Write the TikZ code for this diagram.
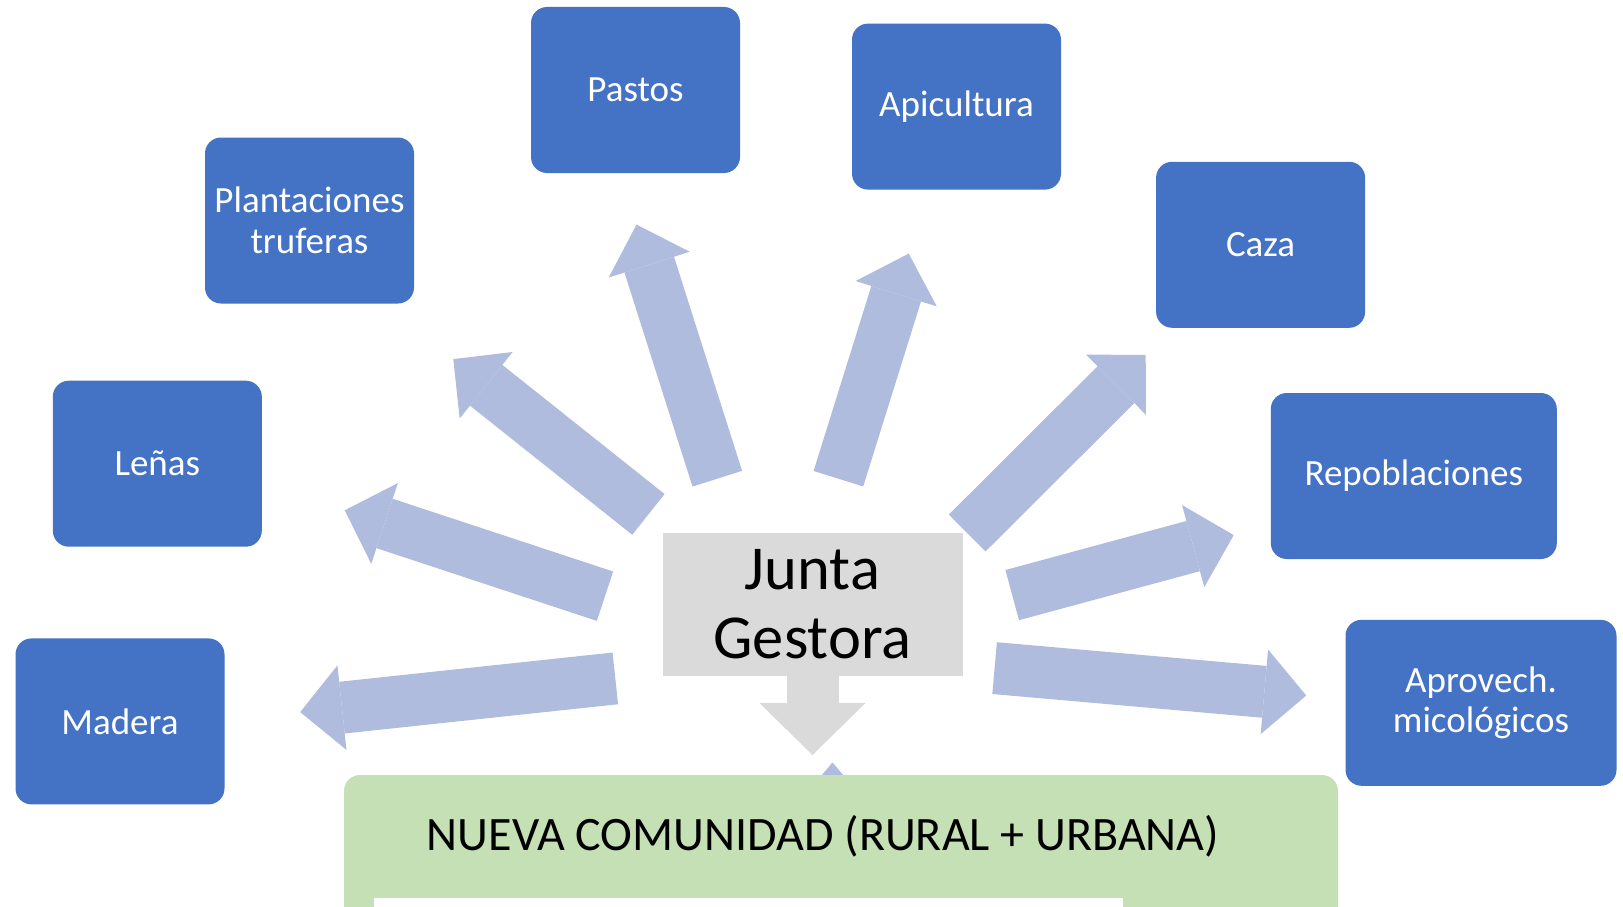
\documentclass[tikz,border=0pt]{standalone}
\usepackage{fontspec}
\setmainfont{Carlito}
\usetikzlibrary{arrows.meta}
\definecolor{boxblue}{RGB}{68,114,196}
\definecolor{arrowblue}{RGB}{175,188,222}
\definecolor{juntagray}{RGB}{218,218,218}
\definecolor{comgreen}{RGB}{197,224,180}
\tikzset{
  usobox/.style={fill=boxblue, rounded corners=16pt, minimum width=209pt, minimum height=166pt,
    text=white, align=center, inner sep=0pt, font=\fontsize{37}{40.5}\selectfont},
  bluearrow/.style={arrowblue, line width=52pt, -{Triangle[length=42pt, width=85pt, line width=0pt]}},
  grayarrow/.style={juntagray, line width=52pt, -{Triangle[length=52pt, width=106pt, line width=0pt]}}
}
\begin{document}
\begin{tikzpicture}[x=1pt,y=1pt,yscale=-1,xscale=1]
\clip (0,0) rectangle (1623,907);

%Shape: Rounded Rect (usos)
\node[usobox] (pastos) at (635.5,90) {Pastos};
\node[usobox] (apicultura) at (956.5,106.6) {Apicultura};
\node[usobox] (truferas) at (309.5,220.5) {Plantaciones\\truferas};
\node[usobox] (caza) at (1260.6,244.8) {Caza};
\node[usobox] (lenas) at (157.3,463.7) {Leñas};
\node[usobox, minimum width=286pt] (repoblaciones) at (1413.8,476) {Repoblaciones};
\node[usobox] (madera) at (120,721.4) {Madera};
\node[usobox, minimum width=271pt] (micologicos) at (1481,702.8) {Aprovech.\\micológicos};

%Shape: Rectangle (junta)
\node[fill=juntagray, minimum width=300pt, minimum height=143pt, align=center, inner sep=0pt,
  font=\fontsize{62.5}{69}\selectfont] (junta) at (812.5,604.5) {Junta\\Gestora};

%Shape: Right Arrow (ends)
\coordinate (madera-a) at (615.3,678.4);   \coordinate (madera-b) at (300.2,712.1);
\coordinate (lenas-a) at (605,596.2);      \coordinate (lenas-b) at (344.7,510.3);
\coordinate (truferas-a) at (648.4,514.4); \coordinate (truferas-b) at (453.3,359.1);
\coordinate (pastos-a) at (717.3,478.7);   \coordinate (pastos-b) at (636.5,224.6);
\coordinate (apicultura-a) at (838.4,478.7); \coordinate (apicultura-b) at (908.7,253.6);
\coordinate (caza-a) at (967.2,533);       \coordinate (caza-b) at (1145.7,355);
\coordinate (repoblaciones-a) at (1012.2,595.1); \coordinate (repoblaciones-b) at (1233.7,535.1);
\coordinate (micologicos-a) at (994.6,668.1); \coordinate (micologicos-b) at (1306.2,695.5);

%Shape: Right Arrow
\foreach \u in {madera,lenas,truferas,pastos,apicultura,caza,repoblaciones,micologicos}
  \draw[bluearrow] (\u-a) -- (\u-b);

%Shape: Down Arrow
\coordinate (down) at (812.5,755);
\draw[grayarrow] (junta.south) -- (down);

%Shape: Triangle
\fill[arrowblue] (821,776) -- (832.5,762.5) -- (844,776) -- cycle;

%Shape: Rounded Rect (comunidad)
\fill[comgreen, rounded corners=16pt] (344,775) rectangle (1338,960);
% Text Node
\node[font=\fontsize{48}{52}\selectfont, inner sep=0pt] (comunidad) at (823,836) {NUEVA COMUNIDAD (RURAL + URBANA)};
\fill[white] (374,898) rectangle (1123,912);

\end{tikzpicture}
\end{document}
